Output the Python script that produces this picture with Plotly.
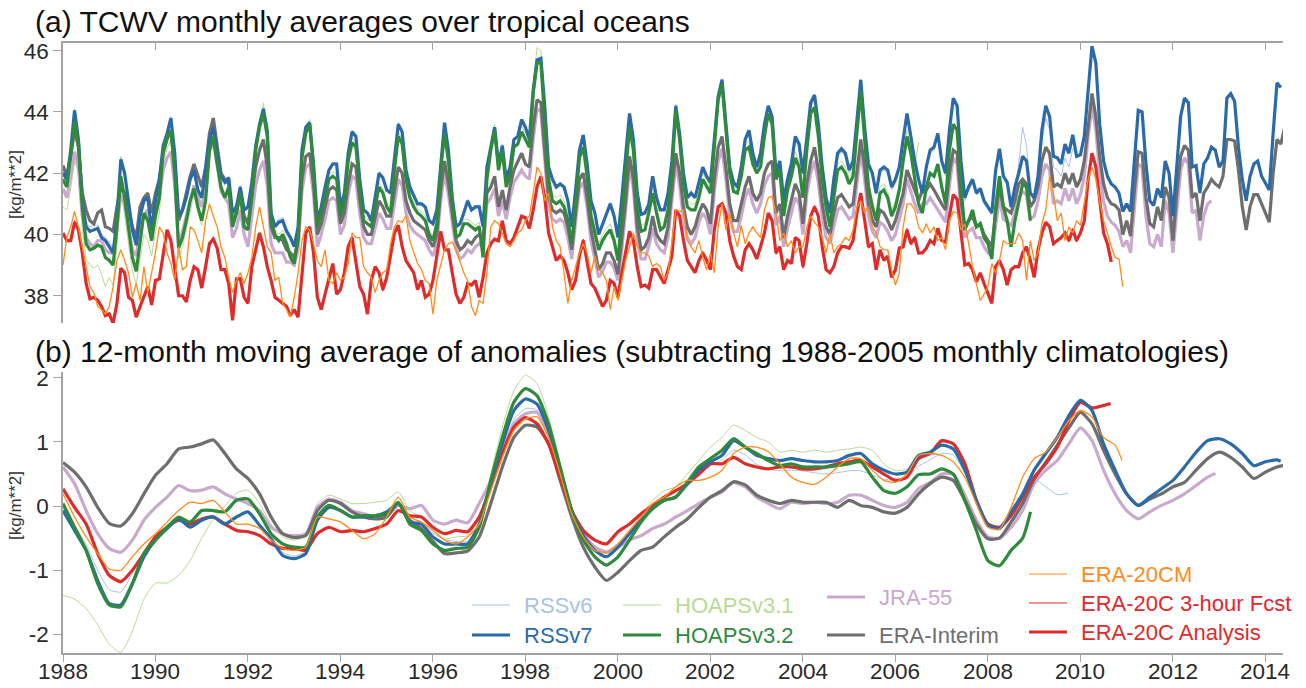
import plotly.graph_objects as go

# ---------------- panel (a): monthly TCWV over tropical oceans, from Jan 1988 ----------------
rssv6_a = [42.05, 41.85, 42.8, 44.1, 43.15, 41.2, 40.35, 40.25, 40.3, 40.3, 40.0, 39.9,
           39.75, 39.55, 40.6, 42.55, 42.05, 41.1, 40.25, 39.8, 40.7, 41.2, 41.3, 40.3,
           41.2, 41.85, 42.95, 43.35, 43.85, 42.7, 40.7, 40.9, 41.3, 41.85, 42.15, 41.5,
           41.25, 42.1, 43.15, 43.55, 42.7, 41.95, 41.75, 41.9, 40.8, 41.0, 41.6, 40.9,
           40.95, 41.75, 42.95, 43.65, 44.15, 43.45, 40.8, 40.35, 40.5, 40.55, 40.2, 40.0,
           39.7, 40.3, 42.8, 43.55, 43.7, 42.35, 40.5, 40.95, 41.6, 42.15, 42.35, 42.35,
           41.0, 41.4, 42.7, 43.4, 43.25, 41.85, 40.85, 40.75, 40.5, 41.25, 42.05, 41.9,
           41.5, 41.4, 42.45, 43.65, 43.4, 42.15, 41.6, 41.35, 41.05, 41.05, 40.95, 40.5,
           40.4, 40.85, 42.35, 43.65, 42.8, 41.25, 40.3, 40.4, 40.75, 41.15, 40.85, 40.95,
           40.95, 40.3, 42.2, 42.9, 43.5, 42.35, 42.9, 41.85, 42.25, 43.1, 43.2, 43.7,
           43.45, 43.05, 44.65, 45.6, 45.65, 44.15, 42.2, 41.85, 41.6, 41.7, 41.6, 41.15,
           40.3, 41.5, 42.75, 43.2, 42.3, 41.15, 40.75, 40.05, 40.4, 40.75, 41.05, 40.65,
           39.95, 41.2, 42.45, 43.85, 43.05, 41.35, 40.7, 40.75, 41.05, 41.9, 41.2, 40.85,
           40.85, 41.35, 42.35, 44.1, 43.25, 42.0, 41.2, 41.35, 41.2, 41.7, 42.1, 41.85,
           41.65, 43.0, 44.4, 44.95, 43.5, 42.15, 41.65, 41.5, 42.1, 43.0, 43.3, 42.6,
           42.1, 42.55, 43.5, 44.1, 43.75, 41.95, 42.3, 41.05, 41.75, 42.2, 43.1, 42.85,
           41.95, 43.0, 44.2, 44.45, 43.5, 42.1, 41.15, 40.65, 41.7, 42.55, 42.7, 42.55,
           42.0, 42.3, 43.5, 44.95, 43.4, 42.2, 41.9, 41.3, 42.0, 42.1, 42.0, 41.45,
           41.7, 42.1, 43.0, 43.85, 43.1, 42.3, 41.7, 41.3, 42.1, 42.65, 42.75, 43.2,
           42.3, 41.9, 43.3, 44.35, 44.1, 42.3, 41.1, 41.45, 41.7, 41.3, 41.4, 41.0,
           40.85, 40.65, 42.0, 42.7, 41.85, 41.6, 40.85, 41.6, 42.3, 43.5, 42.9, 41.4,
           41.0, 41.6, 43.0, 43.8, 43.4, 42.2, 42.1, 41.9, 42.5, 42.2, 42.8]

rssv7_a = [42.0, 41.8, 42.75, 44.05, 43.1, 41.1, 40.25, 40.1, 40.15, 40.2, 39.9, 39.8,
           39.6, 39.4, 40.5, 42.45, 42.0, 41.0, 40.15, 39.65, 40.6, 41.1, 41.2, 40.15,
           41.1, 41.8, 42.9, 43.3, 43.8, 42.65, 40.6, 40.8, 41.2, 41.8, 42.1, 41.45,
           41.2, 42.1, 43.1, 43.5, 42.65, 41.9, 41.7, 41.85, 40.7, 40.9, 41.55, 40.8,
           40.9, 41.7, 42.9, 43.6, 44.1, 43.4, 40.7, 40.25, 40.4, 40.45, 40.1, 39.9,
           39.6, 40.25, 42.75, 43.5, 43.65, 42.3, 40.45, 40.9, 41.55, 42.1, 42.3, 42.3,
           40.9, 41.35, 42.65, 43.35, 43.2, 41.8, 40.8, 40.7, 40.45, 41.2, 42.0, 41.85,
           41.45, 41.35, 42.4, 43.6, 43.35, 42.1, 41.55, 41.3, 41.0, 41.0, 40.9, 40.45,
           40.35, 40.8, 42.3, 43.65, 42.75, 41.2, 40.25, 40.35, 40.7, 41.1, 40.8, 40.9,
           40.9, 40.25, 42.2, 42.9, 43.5, 42.3, 42.9, 41.8, 42.2, 43.1, 43.2, 43.75,
           43.5, 43.1, 44.7, 45.7, 45.75, 44.2, 42.2, 41.8, 41.55, 41.65, 41.55, 41.1,
           40.25, 41.45, 42.75, 43.25, 42.3, 41.1, 40.7, 40.0, 40.35, 40.7, 41.0, 40.6,
           39.9, 41.2, 42.5, 43.95, 43.1, 41.35, 40.65, 40.7, 41.0, 41.9, 41.2, 40.8,
           40.8, 41.35, 42.4, 44.2, 43.3, 42.0, 41.2, 41.35, 41.2, 41.7, 42.2, 41.9,
           41.7, 43.1, 44.5, 45.05, 43.6, 42.2, 41.7, 41.55, 42.2, 43.1, 43.4, 42.65,
           42.2, 42.65, 43.6, 44.2, 43.85, 42.0, 42.4, 41.1, 41.8, 42.3, 43.2, 42.95,
           42.0, 43.1, 44.3, 44.55, 43.6, 42.2, 41.2, 40.7, 41.8, 42.65, 42.8, 42.65,
           42.1, 42.4, 43.6, 45.05, 43.5, 42.3, 42.0, 41.35, 42.1, 42.2, 42.1, 41.55,
           41.8, 42.2, 43.1, 43.95, 43.2, 42.4, 41.8, 41.35, 42.2, 42.75, 42.85, 43.3,
           42.4, 42.0, 43.4, 44.45, 44.2, 42.4, 41.2, 41.55, 41.8, 41.35, 41.5, 41.1,
           40.9, 40.7, 42.1, 42.8, 41.9, 41.7, 40.9, 41.55, 42.0, 42.55, 42.4, 41.35,
           41.2, 41.9, 43.4, 44.2, 43.85, 42.55, 42.5, 42.3, 42.95, 42.65, 43.25, 42.55,
           42.6, 43.2, 44.7, 46.15, 45.6, 43.6, 42.4, 41.9, 41.65, 41.55, 41.35, 40.75,
           41.0, 40.75, 42.4, 44.05, 44.0, 42.3, 41.1, 40.95, 41.5, 41.2, 42.4, 42.0,
           40.6, 42.2, 43.85, 44.45, 44.3, 42.2, 42.25, 41.35, 42.3, 42.5, 42.85, 42.75,
           42.2, 42.4, 44.45, 44.6, 44.35, 42.85, 41.8, 41.1, 41.9, 42.3, 42.4, 41.9,
           41.65, 41.45, 43.3, 44.95, 44.8]

hoaps31_a = [40.9, 40.8, 41.5, 42.4, 42.0, 40.2, 39.2, 39.0, 38.9, 39.0, 38.7, 38.3,
             38.6, 38.35, 39.6, 41.4, 40.6, 39.7, 38.8, 38.4, 39.2, 40.0, 39.8, 39.3,
             40.1, 40.7, 42.3, 42.8, 43.1, 41.6, 39.2, 39.6, 40.2, 40.8, 41.3, 40.7,
             40.3, 41.0, 42.7, 43.3, 42.4, 41.6, 41.3, 41.6, 40.3, 40.8, 41.4, 40.3,
             40.3, 41.35, 42.9, 43.65, 44.3, 43.3, 40.6, 40.15, 40.0, 40.15, 39.85, 39.45,
             39.25, 40.1, 42.65, 43.45, 43.75, 42.35, 40.4, 40.85, 41.35, 41.95, 42.05, 41.95,
             40.75, 41.25, 42.55, 43.15, 43.0, 41.7, 40.6, 40.5, 40.4, 41.05, 41.7, 41.5,
             41.05, 40.85, 42.25, 43.35, 43.1, 41.95, 41.35, 41.05, 40.85, 40.75, 40.6, 40.15,
             39.95, 40.5, 42.25, 43.45, 42.55, 41.25, 40.05, 40.15, 40.5, 40.5, 40.4, 40.3,
             40.4, 39.45, 42.0, 42.95, 43.6, 42.3, 42.95, 41.75, 42.1, 43.05, 43.15, 43.55,
             43.3, 43.05, 44.85, 46.1, 46.0, 44.1, 42.0, 41.3, 41.2, 41.3, 41.1, 40.65,
             39.9, 41.2, 42.7, 43.05, 42.1, 40.8, 40.2, 39.7, 40.0, 40.2, 40.35, 40.0,
             39.35, 40.8, 42.4, 43.7, 42.95, 41.0, 40.3, 40.35, 40.9, 41.55, 40.9, 40.35,
             40.45, 41.0, 42.2, 44.25, 43.3, 41.85, 41.1, 41.0, 41.0, 41.4, 42.0, 41.75,
             41.55, 43.05, 44.6, 45.1, 43.6, 42.2, 41.6, 41.55, 42.1, 42.95, 43.05, 42.5,
             42.2, 42.4, 43.4, 44.15, 43.8, 42.0, 42.3, 40.8, 41.65, 42.1, 42.7, 42.4,
             41.4, 42.95, 44.15, 44.35, 43.4, 42.0, 41.1, 40.45, 41.4, 42.3, 42.4, 42.2,
             41.85, 42.1, 43.5, 44.9, 43.3, 41.75, 41.1, 40.65, 41.55, 41.65, 41.4, 40.8,
             41.1, 41.65, 42.6, 43.4, 42.85, 42.2, 43.0]

hoaps32_a = [41.8, 41.55, 42.6, 43.7, 43.0, 40.9, 39.7, 39.5, 39.55, 39.65, 39.6, 39.25,
             39.15, 39.0, 40.25, 41.9, 41.2, 40.25, 39.25, 38.8, 39.8, 40.7, 40.45, 39.8,
             40.6, 41.2, 42.75, 43.2, 43.4, 42.0, 39.55, 39.9, 40.45, 41.1, 41.5, 40.9,
             40.45, 41.1, 42.75, 43.2, 42.3, 41.55, 41.2, 41.55, 40.25, 40.7, 41.35, 40.25,
             40.15, 41.2, 42.75, 43.5, 43.95, 43.2, 40.45, 40.0, 39.8, 40.0, 39.7, 39.25,
             39.05, 39.9, 42.5, 43.3, 43.6, 42.2, 40.25, 40.7, 41.2, 41.8, 41.9, 41.8,
             40.6, 41.1, 42.4, 43.0, 42.85, 41.55, 40.45, 40.35, 40.25, 40.9, 41.55, 41.35,
             40.9, 40.7, 42.1, 43.2, 42.95, 41.8, 41.2, 40.9, 40.7, 40.6, 40.45, 40.0,
             39.8, 40.35, 42.1, 43.3, 42.4, 41.1, 39.9, 40.0, 40.35, 40.35, 40.25, 40.15,
             40.25, 39.25, 41.8, 42.75, 43.4, 42.1, 42.75, 41.55, 41.9, 42.85, 42.95, 43.35,
             43.1, 42.85, 44.6, 45.6, 45.6, 43.85, 41.8, 41.1, 41.0, 41.1, 40.9, 40.45,
             39.7, 41.0, 42.5, 42.85, 41.9, 40.6, 40.0, 39.5, 39.8, 40.0, 40.15, 39.8,
             39.15, 40.6, 42.2, 43.5, 42.75, 40.8, 40.1, 40.15, 40.7, 41.35, 40.7, 40.15,
             40.25, 40.8, 42.0, 44.05, 43.1, 41.65, 40.9, 40.8, 40.8, 41.2, 41.8, 41.55,
             41.35, 42.85, 44.4, 44.9, 43.4, 42.0, 41.4, 41.35, 41.9, 42.75, 42.85, 42.3,
             42.0, 42.2, 43.2, 43.95, 43.6, 41.8, 42.1, 40.6, 41.45, 41.9, 42.5, 42.2,
             41.2, 42.75, 43.95, 44.15, 43.2, 41.8, 40.9, 40.25, 41.2, 42.1, 42.2, 42.0,
             41.65, 41.9, 43.3, 44.7, 43.1, 41.55, 40.9, 40.45, 41.35, 41.45, 41.2, 40.6,
             40.9, 41.45, 42.4, 43.2, 42.65, 41.8, 41.0, 40.7, 41.55, 42.0, 41.9, 42.3,
             41.55, 41.0, 42.75, 43.6, 43.4, 41.55, 40.15, 40.45, 40.8, 40.25, 40.35, 39.9,
             39.7, 39.2, 40.9, 41.9, 40.9, 40.45, 39.6, 40.45, 41.1, 41.65, 41.55, 40.45]

jra55_a = [41.5, 41.2, 41.9, 42.7, 42.2, 40.6, 39.9, 39.7, 39.6, 39.8, 39.8, 39.5,
           39.4, 39.4, 40.2, 41.3, 41.0, 40.2, 39.5, 39.3, 40.2, 40.6, 40.8, 40.1,
           40.7, 41.2, 42.1, 42.5, 42.7, 41.6, 39.6, 40.1, 40.7, 41.2, 41.6, 41.2,
           40.9, 41.6, 42.7, 43.0, 42.3, 41.4, 41.2, 41.0, 39.9, 40.2, 40.8, 40.0,
           39.6, 40.6, 41.6, 42.1, 42.4, 41.6, 39.7, 39.4, 39.4, 39.4, 39.1, 39.1,
           39.0, 39.5, 41.4, 42.2, 42.3, 41.3, 39.6, 40.0, 40.5, 41.1, 41.2, 41.1,
           40.0, 40.3, 41.3, 41.9, 41.8, 40.7, 39.9, 39.7, 39.7, 40.2, 40.7, 40.5,
           40.2, 40.2, 41.0, 41.8, 41.6, 40.7, 40.3, 40.1, 40.0, 39.9, 39.8, 39.5,
           39.3, 39.7, 41.1, 42.0, 41.3, 40.4, 39.5, 39.2, 39.3, 39.5, 39.4, 39.6,
           39.7, 39.6, 41.0, 41.2, 41.5, 40.6, 41.1, 40.5, 41.2, 41.7, 41.9, 42.1,
           41.9, 41.8, 43.1, 44.1, 44.0, 42.5, 40.9, 40.5, 40.4, 40.5, 40.4, 39.9,
           39.2, 40.4, 41.5, 41.7, 40.9, 39.8, 39.2, 38.6, 38.8, 39.1, 39.1, 38.9,
           38.5, 39.5, 40.8, 42.2, 41.5, 39.9, 39.2, 39.2, 39.6, 40.2, 39.7, 39.5,
           39.4, 39.9, 41.1, 42.3, 41.6, 40.5, 39.9, 39.7, 39.9, 40.4, 40.7, 40.5,
           40.0, 41.4, 42.4, 42.8, 41.8, 40.6, 40.1, 40.1, 40.6, 41.2, 41.5, 41.0,
           40.7, 41.0, 41.6, 41.9, 42.0, 40.3, 40.6, 39.6, 40.2, 40.7, 41.2, 41.0,
           40.0, 41.3, 42.0, 42.4, 41.7, 40.6, 39.9, 39.7, 40.3, 40.8, 40.9, 40.7,
           40.5, 40.6, 41.6, 42.7, 41.8, 40.6, 40.1, 39.9, 40.4, 40.3, 40.1, 39.8,
           40.0, 40.5, 41.0, 41.8, 41.4, 41.0, 40.7, 41.0, 41.0, 41.2, 41.0, 40.8,
           40.6, 40.4, 41.6, 42.5, 42.3, 40.8, 39.9, 40.1, 40.2, 39.9, 39.9, 39.6,
           39.4, 39.3, 40.3, 41.2, 40.5, 40.4, 40.3, 40.7, 41.2, 41.4, 41.3, 40.5,
           40.6, 41.1, 41.9, 42.3, 42.1, 41.0, 41.1, 41.0, 41.5, 41.1, 41.5, 41.0,
           41.3, 41.9, 43.2, 44.2, 43.4, 42.0, 41.1, 40.6, 40.4, 40.3, 40.1, 39.6,
           39.8, 39.4, 41.0, 42.3, 42.2, 40.6, 39.7, 39.6, 40.0, 39.6, 41.1, 40.7,
           39.4, 40.9, 42.1, 42.5, 42.3, 40.7, 40.8, 39.8, 40.6, 41.0, 41.1]

era_interim_a = [42.25, 41.9, 42.55, 43.4, 42.85, 41.35, 40.8, 40.45, 40.35, 40.7, 40.8, 40.25,
                 40.2, 40.1, 40.9, 41.55, 41.35, 40.8, 40.25, 39.9, 40.9, 41.2, 41.35, 40.7,
                 41.35, 41.8, 42.65, 43.1, 43.4, 42.2, 40.45, 40.8, 41.35, 41.9, 42.3, 41.9,
                 41.55, 42.2, 43.3, 43.8, 42.85, 42.0, 41.8, 41.65, 40.45, 40.7, 41.45, 40.6,
                 40.35, 41.2, 42.2, 42.75, 43.1, 42.2, 40.25, 39.9, 39.9, 39.8, 39.5, 39.4,
                 39.25, 39.8, 41.8, 42.55, 42.65, 41.65, 40.0, 40.35, 40.9, 41.45, 41.55, 41.45,
                 40.35, 40.7, 41.65, 42.3, 42.2, 41.1, 40.25, 40.0, 40.0, 40.6, 41.1, 40.9,
                 40.6, 40.6, 41.35, 42.2, 42.0, 41.1, 40.7, 40.45, 40.35, 40.25, 40.15, 39.8,
                 39.6, 40.0, 41.45, 42.4, 41.65, 40.7, 39.8, 39.5, 39.6, 39.8, 39.7, 39.9,
                 40.0, 39.9, 41.35, 41.55, 41.9, 40.9, 41.45, 40.8, 41.55, 42.1, 42.4, 42.65,
                 42.3, 42.2, 43.5, 44.4, 44.3, 42.85, 41.2, 40.8, 40.7, 40.8, 40.7, 40.25,
                 39.5, 40.7, 41.8, 42.0, 41.2, 40.15, 39.5, 38.85, 39.05, 39.4, 39.4, 39.15,
                 38.7, 39.8, 41.1, 42.55, 41.8, 40.25, 39.5, 39.6, 39.9, 40.6, 40.0, 39.8,
                 39.7, 40.25, 41.45, 42.65, 42.0, 40.9, 40.25, 40.0, 40.25, 40.7, 41.0, 40.8,
                 40.35, 41.8, 42.85, 43.2, 42.2, 41.0, 40.45, 40.45, 41.0, 41.55, 41.9, 41.35,
                 41.1, 41.35, 42.0, 42.3, 42.4, 40.7, 41.0, 39.9, 40.6, 41.1, 41.65, 41.35,
                 40.35, 41.65, 42.4, 42.85, 42.1, 41.0, 40.25, 40.0, 40.7, 41.2, 41.3, 41.1,
                 40.9, 41.0, 42.0, 43.1, 42.2, 41.0, 40.45, 40.25, 40.8, 40.7, 40.45, 40.15,
                 40.45, 40.9, 41.35, 42.1, 41.8, 41.45, 41.1, 41.45, 41.45, 41.65, 41.45, 41.2,
                 41.0, 40.8, 42.0, 42.75, 42.65, 41.1, 40.25, 40.45, 40.6, 40.25, 40.35, 40.0,
                 39.8, 39.6, 40.7, 41.55, 40.9, 40.8, 40.7, 41.1, 41.65, 41.8, 41.65, 40.9,
                 41.1, 41.55, 42.4, 42.85, 42.65, 41.55, 41.65, 41.55, 42.0, 41.65, 42.0, 41.55,
                 41.8, 42.4, 43.6, 44.6, 43.85, 42.55, 41.65, 41.2, 41.0, 40.95, 40.8, 40.0,
                 40.45, 39.95, 41.45, 42.7, 42.65, 41.2, 40.35, 40.25, 40.9, 40.45, 41.55, 41.2,
                 39.8, 41.35, 42.55, 42.9, 42.75, 41.2, 41.35, 40.45, 41.35, 41.55, 41.8, 41.65,
                 41.55, 41.9, 43.1, 43.1, 43.05, 42.1, 40.9, 40.15, 40.9, 41.3, 41.3, 41.0,
                 40.7, 40.4, 42.0, 43.1, 42.95, 43.5]

era20cm_a = [39.0, 39.9, 40.25, 40.75, 40.25, 39.6, 38.85, 38.3, 38.1, 37.65, 37.55, 37.4,
             37.65, 38.3, 39.15, 39.5, 39.15, 38.75, 37.95, 38.4, 37.85, 38.95, 38.1, 38.75,
             39.4, 40.25, 40.05, 39.4, 39.05, 38.5, 39.6, 38.85, 38.95, 40.25, 40.15, 39.8,
             39.4, 40.45, 41.0, 40.6, 40.25, 39.6, 39.25, 38.6, 38.1, 38.5, 38.75, 38.4,
             38.75, 39.25, 40.25, 40.9, 40.25, 39.6, 39.4, 38.5, 38.6, 37.75, 37.55, 37.3,
             37.95, 38.75, 39.8, 40.25, 40.15, 39.7, 39.15, 38.95, 39.5, 38.5, 38.4, 38.75,
             38.5, 38.6, 39.05, 40.05, 39.9, 39.9, 38.95, 38.75, 38.6, 38.1, 38.5, 38.75,
             38.85, 39.7, 40.25, 40.45, 40.4, 40.6, 39.8, 39.4, 39.05, 38.85, 38.5, 38.4,
             37.4, 38.5, 39.05, 39.5, 39.7, 39.75, 39.5, 39.15, 38.75, 38.5, 37.65, 37.35,
             37.85, 37.75, 38.75, 40.25, 40.45, 40.35, 40.05, 39.7, 39.6, 39.8, 40.05, 40.15,
             40.45, 40.6, 41.35, 42.2, 42.0, 41.1, 41.35, 40.25, 39.8, 39.6, 38.75, 37.75,
             38.5, 38.95, 39.4, 39.7, 39.4, 38.75, 39.3, 38.85, 38.75, 38.5, 37.55, 38.3,
             37.85, 38.5, 39.15, 39.6, 40.05, 39.6, 39.4, 39.4, 39.3, 38.95, 39.05, 38.95,
             38.5, 38.75, 39.8, 40.8, 40.75, 40.8, 39.8, 39.6, 39.4, 39.8, 39.25, 38.85,
             39.4, 38.75, 40.25, 41.0, 40.15, 40.7, 40.05, 39.6, 40.3, 39.7, 40.05, 40.25,
             40.05, 39.9, 40.8, 41.2, 41.25, 40.7, 39.8, 40.05, 39.6, 39.8, 39.4, 39.6,
             39.6, 40.25, 40.6, 40.4, 40.25, 39.9, 39.4, 40.05, 39.4, 39.6, 39.7, 39.9,
             39.8, 40.15, 40.9, 41.1, 40.7, 40.9, 40.25, 40.05, 39.6, 39.5, 39.5, 38.85,
             38.35, 38.75, 40.25, 41.0, 41.0, 40.8, 40.25, 40.05, 40.35, 40.05, 40.25, 39.8,
             39.9, 39.5, 40.45, 40.75, 40.7, 40.15, 40.35, 39.7, 38.95, 38.4, 37.85, 38.05,
             38.3, 39.05, 38.75, 39.15, 39.8, 39.7, 39.7, 39.7, 40.05, 39.8, 38.5, 39.8,
             39.15, 39.4, 40.35, 40.8, 41.9, 41.35, 40.45, 40.7, 39.8, 40.25, 40.05, 40.45,
             40.3, 41.0, 41.8, 42.2, 41.8, 41.1, 40.45, 40.05, 39.6, 39.25, 39.2, 38.3]

era20c_fcst_a = [40.0, 39.75, 39.85, 40.45, 40.1, 39.35, 38.45, 37.95, 37.9, 37.9, 37.7, 37.4,
                 37.45, 37.15, 37.8, 38.85, 38.7, 38.0, 37.8, 37.35, 37.7, 37.9, 38.25, 37.75,
                 38.45, 38.6, 39.35, 40.1, 39.85, 38.9, 38.05, 37.95, 37.85, 38.45, 38.9, 38.8,
                 38.3, 38.9, 39.65, 39.9, 39.5, 38.9, 38.8, 38.45, 37.3, 38.5, 38.6, 38.0,
                 37.8, 38.9, 39.55, 40.0, 39.65, 38.9, 38.55, 37.9, 37.9, 37.7, 37.7, 37.4,
                 37.5, 37.35, 38.7, 40.0, 40.2, 39.45, 37.9, 37.6, 38.0, 38.65, 39.0, 38.1,
                 38.15, 38.8, 39.55, 39.95, 39.0, 38.35, 38.0, 37.45, 38.45, 38.9, 38.8, 38.15,
                 38.65, 39.35, 40.0, 40.25, 39.65, 39.1, 38.9, 38.8, 38.25, 38.45, 38.0, 38.1,
                 38.45, 39.25, 40.05, 39.55, 39.45, 38.8, 38.1, 37.8, 37.9, 38.35, 38.4, 38.45,
                 38.0, 38.55, 39.35, 39.75, 39.8, 39.75, 40.4, 39.85, 39.65, 39.95, 40.2, 40.55,
                 40.5, 40.25, 40.75, 41.5, 41.85, 41.25, 40.1, 39.55, 39.2, 39.25, 39.1, 38.8,
                 38.25, 38.45, 39.25, 39.85, 39.2, 38.45, 38.2, 38.0, 37.7, 37.8, 38.45, 38.45,
                 38.0, 38.7, 39.45, 40.05, 39.75, 39.0, 38.35, 38.3, 38.3, 38.8, 38.9, 38.55,
                 38.45, 38.8, 39.35, 40.75, 40.55, 39.85, 39.1, 39.0, 38.8, 39.1, 39.45, 39.1,
                 38.9, 40.1, 40.85, 41.05, 40.65, 39.85, 39.25, 39.0, 38.9, 39.45, 39.75, 39.45,
                 39.25, 39.55, 40.1, 40.65, 40.5, 39.35, 39.55, 38.9, 39.1, 39.1, 39.85, 39.85,
                 38.9, 39.75, 40.55, 40.95, 40.55, 39.65, 38.9, 38.7, 39.0, 39.35, 39.65, 39.55,
                 39.6, 39.75, 40.75, 41.3, 40.5, 39.55, 39.75, 38.9, 39.45, 39.2, 39.25, 38.65,
                 38.8, 39.6, 39.55, 40.2, 39.65, 39.95, 39.35, 39.45, 39.5, 39.85, 39.65, 40.15,
                 39.85, 39.7, 40.65, 41.25, 41.2, 40.0, 39.05, 39.0, 38.9, 38.5, 38.7, 38.45,
                 38.0, 37.8, 38.9, 39.2, 38.8, 38.4, 38.8, 39.0, 38.9, 39.45, 39.55, 39.2,
                 38.65, 39.45, 40.1, 40.35, 40.3, 39.65, 39.85, 39.85, 40.1, 39.75, 40.2, 39.75,
                 40.1, 40.4, 41.75, 42.6, 42.25, 41.05, 40.1, 39.65, 39.15]

era20c_an_a = [40.05, 39.8, 39.8, 40.4, 40.15, 39.4, 38.4, 37.9, 37.95, 37.85, 37.65, 37.35,
               37.4, 37.1, 37.75, 38.9, 38.75, 37.95, 37.85, 37.3, 37.65, 37.95, 38.3, 37.7,
               38.5, 38.55, 39.4, 40.15, 39.8, 38.95, 38.0, 38.0, 37.8, 38.5, 38.95, 38.85,
               38.25, 38.95, 39.7, 39.85, 39.55, 38.85, 38.85, 38.4, 37.2, 38.55, 38.55, 37.95,
               37.75, 38.95, 39.5, 40.05, 39.6, 38.95, 38.5, 37.95, 37.85, 37.75, 37.65, 37.35,
               37.55, 37.3, 38.75, 40.05, 40.25, 39.4, 37.95, 37.55, 38.05, 38.6, 39.05, 38.05,
               38.2, 38.75, 39.6, 39.9, 39.05, 38.3, 38.05, 37.4, 38.5, 38.95, 38.75, 38.2,
               38.6, 39.4, 40.05, 40.3, 39.6, 39.15, 38.95, 38.75, 38.2, 38.5, 37.95, 38.05,
               38.5, 39.3, 40.1, 39.5, 39.5, 38.75, 38.05, 37.75, 37.95, 38.4, 38.35, 38.5,
               37.95, 38.6, 39.4, 39.7, 39.85, 39.8, 40.45, 39.8, 39.7, 39.9, 40.25, 40.6,
               40.55, 40.2, 40.8, 41.55, 41.9, 41.2, 40.05, 39.6, 39.15, 39.3, 39.15, 38.75,
               38.2, 38.5, 39.3, 39.8, 39.15, 38.4, 38.25, 37.95, 37.65, 37.85, 38.5, 38.4,
               37.95, 38.75, 39.4, 40.1, 39.8, 38.95, 38.3, 38.35, 38.25, 38.85, 38.85, 38.6,
               38.4, 38.85, 39.3, 40.8, 40.6, 39.8, 39.15, 38.95, 38.75, 39.15, 39.4, 39.15,
               38.85, 40.15, 40.9, 41.0, 40.7, 39.8, 39.3, 38.95, 38.85, 39.5, 39.7, 39.5,
               39.2, 39.6, 40.05, 40.7, 40.45, 39.4, 39.6, 38.85, 39.15, 39.05, 39.9, 39.8,
               38.95, 39.7, 40.6, 40.9, 40.6, 39.6, 38.85, 38.75, 38.95, 39.4, 39.6, 39.6,
               39.55, 39.8, 40.7, 41.35, 40.45, 39.6, 39.7, 38.85, 39.5, 39.15, 39.3, 38.6,
               38.85, 39.55, 39.6, 40.15, 39.7, 39.9, 39.4, 39.4, 39.55, 39.8, 39.7, 40.2,
               39.8, 39.75, 40.6, 41.3, 41.15, 40.05, 39.0, 39.05, 38.85, 38.45, 38.75, 38.4,
               38.05, 37.75, 38.95, 39.15, 38.85, 38.35, 38.85, 38.95, 38.95, 39.4, 39.6, 39.15,
               38.6, 39.5, 40.05, 40.4, 40.25, 39.7, 39.8, 39.9, 40.05, 39.8, 40.15, 39.8,
               40.05, 40.45, 41.8, 42.65, 42.2, 41.1, 40.05, 39.7, 39.1]

# ---------------- panel (b): 12-month moving average of anomalies, quarterly from 1988.0 ----------------
rssv6_b = [-0.02, -0.3, -0.6, -1.0, -1.3, -1.34, -1.05, -0.7, -0.5, -0.33, -0.2, -0.3,
           -0.2, -0.15, -0.25, -0.15, -0.1, -0.28, -0.48, -0.72, -0.78, -0.7, -0.2, -0.03,
           -0.05, -0.15, -0.15, -0.15, -0.08, 0.04, -0.22, -0.25, -0.42, -0.52, -0.55, -0.55,
           -0.25, 0.3, 0.85, 1.35, 1.52, 1.5, 1.1, 0.55, -0.05, -0.42, -0.62, -0.7,
           -0.58, -0.4, -0.2, -0.05, 0.07, 0.12, 0.3, 0.5, 0.62, 0.72, 0.87, 0.8,
           0.65, 0.58, 0.55, 0.56, 0.55, 0.52, 0.5, 0.52, 0.55, 0.55, 0.48, 0.42,
           0.4, 0.45, 0.62, 0.72, 0.82, 0.8, 0.52, 0.1, -0.28, -0.33, -0.1, 0.15,
           0.42, 0.3, 0.18, 0.2]
rssv7_b = [-0.07, -0.38, -0.69, -1.16, -1.52, -1.54, -1.21, -0.79, -0.53, -0.35, -0.2, -0.33,
           -0.22, -0.17, -0.28, -0.17, -0.09, -0.3, -0.51, -0.77, -0.82, -0.74, -0.22, -0.02,
           -0.07, -0.17, -0.17, -0.15, -0.09, 0.04, -0.25, -0.28, -0.48, -0.59, -0.59, -0.59,
           -0.28, 0.35, 0.97, 1.49, 1.67, 1.59, 1.18, 0.56, -0.07, -0.46, -0.69, -0.79,
           -0.64, -0.43, -0.22, -0.04, 0.09, 0.14, 0.35, 0.56, 0.69, 0.79, 1.02, 0.92,
           0.79, 0.74, 0.71, 0.74, 0.71, 0.69, 0.69, 0.71, 0.79, 0.82, 0.66, 0.56,
           0.5, 0.53, 0.79, 0.84, 0.95, 0.89, 0.56, 0.09, -0.3, -0.35, -0.09, 0.19,
           0.56, 0.82, 1.07, 1.41, 1.65, 1.49, 0.97, 0.56, 0.19, 0.01, 0.14, 0.27,
           0.4, 0.61, 0.84, 1.02, 1.05, 0.97, 0.82, 0.63, 0.69, 0.72, 0.7]
hoaps31_b = [-1.39, -1.45, -1.6, -1.85, -2.15, -2.28, -1.95, -1.45, -1.2, -1.2, -1.08, -0.85,
             -0.5, -0.2, 0.0, 0.2, 0.25, 0.04, -0.28, -0.48, -0.53, -0.46, 0.04, 0.17,
             0.11, 0.04, 0.04, 0.06, 0.09, 0.22, -0.07, -0.17, -0.38, -0.51, -0.48, -0.46,
             -0.17, 0.5, 1.23, 1.8, 2.04, 1.91, 1.39, 0.66, -0.02, -0.43, -0.66, -0.74,
             -0.59, -0.38, -0.15, 0.09, 0.24, 0.3, 0.5, 0.71, 0.92, 1.07, 1.26, 1.18,
             1.07, 1.0, 0.84, 0.87, 0.84, 0.87, 0.84, 0.87, 0.89, 0.92, 0.87, 0.66,
             0.55, 0.6]
hoaps32_b = [0.04, -0.33, -0.69, -1.21, -1.54, -1.57, -1.21, -0.74, -0.53, -0.33, -0.17, -0.25,
             -0.07, -0.07, -0.09, 0.09, 0.11, -0.12, -0.43, -0.59, -0.64, -0.64, -0.17, 0.01,
             -0.07, -0.17, -0.15, -0.15, -0.12, 0.06, -0.28, -0.38, -0.59, -0.69, -0.66, -0.64,
             -0.33, 0.4, 1.07, 1.62, 1.83, 1.72, 1.28, 0.61, -0.07, -0.53, -0.79, -0.92,
             -0.79, -0.53, -0.25, -0.04, 0.09, 0.14, 0.37, 0.61, 0.74, 0.87, 1.05, 0.92,
             0.82, 0.71, 0.63, 0.66, 0.61, 0.61, 0.61, 0.63, 0.66, 0.69, 0.45, 0.24,
             0.2, 0.3, 0.49, 0.5, 0.58, 0.5, 0.09, -0.38, -0.85, -0.93, -0.69, -0.5,
             -0.09]
jra55_b = [0.61, 0.35, -0.07, -0.43, -0.66, -0.72, -0.53, -0.22, -0.02, 0.14, 0.32, 0.24,
           0.25, 0.3, 0.19, 0.11, 0.04, -0.07, -0.33, -0.43, -0.46, -0.43, -0.02, 0.11,
           0.06, -0.07, -0.12, -0.17, -0.15, 0.01, -0.04, 0.01, -0.22, -0.28, -0.22, -0.26,
           0.04, 0.4, 0.87, 1.28, 1.44, 1.46, 1.13, 0.5, -0.07, -0.43, -0.64, -0.72,
           -0.64, -0.53, -0.46, -0.35, -0.28, -0.17, -0.07, 0.04, 0.14, 0.22, 0.37, 0.3,
           0.14, 0.04, -0.04, 0.06, 0.04, 0.06, 0.04, 0.06, 0.17, 0.17, 0.09, 0.01,
           -0.02, 0.06, 0.27, 0.37, 0.5, 0.5, 0.17, -0.22, -0.48, -0.5, -0.33, -0.07,
           0.35, 0.56, 0.71, 0.97, 1.22, 1.02, 0.56, 0.19, -0.07, -0.2, -0.09, 0.01,
           0.09, 0.19, 0.32, 0.45, 0.51]
era_interim_b = [0.68, 0.53, 0.3, -0.02, -0.27, -0.31, -0.12, 0.19, 0.48, 0.66, 0.89, 0.92,
                 0.97, 1.03, 0.82, 0.58, 0.43, 0.19, -0.17, -0.43, -0.49, -0.46, -0.07, 0.09,
                 0.04, -0.09, -0.17, -0.2, -0.17, 0.04, -0.22, -0.35, -0.55, -0.74, -0.73, -0.7,
                 -0.48, 0.04, 0.61, 1.07, 1.26, 1.23, 0.97, 0.4, -0.17, -0.64, -0.95, -1.16,
                 -1.03, -0.85, -0.69, -0.64, -0.48, -0.33, -0.2, -0.02, 0.14, 0.24, 0.38, 0.33,
                 0.17, 0.09, 0.04, 0.09, 0.06, 0.06, 0.06, -0.02, 0.09, 0.01, -0.02, -0.09,
                 -0.11, -0.02, 0.19, 0.35, 0.45, 0.4, 0.09, -0.28, -0.51, -0.5, -0.25, 0.04,
                 0.42, 0.68, 0.95, 1.22, 1.46, 1.28, 0.87, 0.5, 0.19, 0.01, 0.11, 0.19,
                 0.3, 0.37, 0.56, 0.74, 0.84, 0.76, 0.61, 0.43, 0.53, 0.61, 0.63]
era20cm_b = [0.19, -0.17, -0.48, -0.74, -0.98, -1.0, -0.79, -0.59, -0.43, -0.25, -0.07, 0.06,
             0.04, 0.09, -0.09, -0.28, -0.28, -0.35, -0.53, -0.66, -0.69, -0.64, -0.17, -0.2,
             -0.25, -0.38, -0.51, -0.43, -0.17, 0.14, -0.17, -0.25, -0.38, -0.53, -0.59, -0.48,
             -0.28, 0.24, 0.76, 1.18, 1.36, 1.39, 1.07, 0.5, -0.12, -0.48, -0.69, -0.72,
             -0.59, -0.38, -0.17, 0.04, 0.14, 0.3, 0.4, 0.4, 0.45, 0.56, 0.82, 0.92,
             0.92, 0.85, 0.66, 0.45, 0.37, 0.34, 0.45, 0.61, 0.74, 0.74, 0.56, 0.4,
             0.37, 0.5, 0.79, 0.82, 0.79, 0.69, 0.45, 0.04, -0.33, -0.36, -0.02, 0.45,
             0.74, 0.84, 1.07, 1.33, 1.49, 1.39, 1.07, 0.95, 0.71]
era20c_fcst_b = [0.25, -0.03, -0.3, -0.73, -1.06, -1.16, -0.99, -0.73, -0.48, -0.33, -0.23, -0.28,
                 -0.21, -0.18, -0.29, -0.37, -0.4, -0.46, -0.58, -0.65, -0.66, -0.68, -0.44, -0.34,
                 -0.4, -0.38, -0.4, -0.35, -0.28, -0.08, -0.15, -0.18, -0.33, -0.42, -0.38, -0.4,
                 -0.17, 0.3, 0.81, 1.22, 1.37, 1.28, 0.97, 0.45, -0.07, -0.37, -0.52, -0.58,
                 -0.4, -0.28, -0.12, 0.02, 0.14, 0.24, 0.36, 0.5, 0.65, 0.66, 0.75, 0.66,
                 0.6, 0.58, 0.6, 0.6, 0.58, 0.58, 0.6, 0.65, 0.68, 0.7, 0.6, 0.5,
                 0.41, 0.45, 0.73, 0.82, 1.0, 0.96, 0.66, 0.1, -0.27, -0.32, -0.15, 0.14,
                 0.45, 0.66, 0.92, 1.32, 1.6, 1.52, 1.56, 1.59]
era20c_an_b = [0.27, -0.02, -0.28, -0.74, -1.08, -1.18, -1.0, -0.74, -0.48, -0.33, -0.22, -0.28,
               -0.2, -0.17, -0.28, -0.38, -0.4, -0.46, -0.59, -0.66, -0.66, -0.69, -0.43, -0.33,
               -0.4, -0.38, -0.4, -0.35, -0.28, -0.07, -0.15, -0.17, -0.33, -0.43, -0.38, -0.4,
               -0.17, 0.3, 0.82, 1.23, 1.38, 1.28, 0.97, 0.45, -0.07, -0.38, -0.53, -0.59,
               -0.4, -0.28, -0.12, 0.01, 0.14, 0.24, 0.35, 0.5, 0.66, 0.66, 0.76, 0.66,
               0.61, 0.58, 0.61, 0.61, 0.58, 0.58, 0.61, 0.66, 0.69, 0.71, 0.61, 0.5,
               0.4, 0.45, 0.74, 0.82, 1.02, 0.97, 0.66, 0.09, -0.28, -0.33, -0.15, 0.14,
               0.45, 0.66, 0.92, 1.33, 1.62, 1.53, 1.57, 1.6]

# last plotted date (decimal year) of each panel-(b) series
b_end = {"RSSv6": 2009.73, "RSSv7": 2014.33, "HOAPSv3.1": 2006.4, "HOAPSv3.2": 2008.92,
         "JRA-55": 2012.92, "ERA-Interim": 2014.38, "ERA-20CM": 2010.9,
         "ERA-20C 3-hour Fcst": 2010.65, "ERA-20C Analysis": 2010.65}

x_ticks = list(range(1988, 2015, 2))
ya_ticks = [38, 40, 42, 44, 46]
yb_ticks = [-2, -1, 0, 1, 2]
yb_ticklabels = ["-2", "-1", "0", "1", "2"]

# ---------------- styling ----------------
series = [
    # name, panel a, panel b, colour, width
    ("RSSv6", rssv6_a, rssv6_b, "#a9c3e3", 1.0),
    ("HOAPSv3.1", hoaps31_a, hoaps31_b, "#b9da93", 1.0),
    ("JRA-55", jra55_a, jra55_b, "#c9a9cd", 3.2),
    ("ERA-Interim", era_interim_a, era_interim_b, "#6e6e6e", 3.2),
    ("ERA-20C 3-hour Fcst", era20c_fcst_a, era20c_fcst_b, "#e3262b", 1.0),
    ("ERA-20C Analysis", era20c_an_a, era20c_an_b, "#de2b2b", 3.2),
    ("RSSv7", rssv7_a, rssv7_b, "#2b6aa9", 3.2),
    ("HOAPSv3.2", hoaps32_a, hoaps32_b, "#2f8a3d", 3.2),
    ("ERA-20CM", era20cm_a, era20cm_b, "#ff8c1a", 1.3),
]

FONT = "Liberation Sans, Arial, Helvetica, sans-serif"
W, H = 1306, 688
ML, MR, MT, MB = 63, 23, 43, 35
PW, PH = W - ML - MR, H - MT - MB


def fx(px):
    return (px - ML) / PW


def fy(py):
    return (H - MB - py) / PH


fig = go.Figure()
for name, va, vb, col, wd in series:
    xa = [1988 + i / 12 for i in range(len(va))]
    fig.add_trace(go.Scatter(x=xa, y=va, mode="lines", name=name, showlegend=False,
                             line=dict(color=col, width=wd), xaxis="x", yaxis="y"))
    xb = [1988 + 0.25 * i for i in range(len(vb) - 1)] + [b_end[name]]
    fig.add_trace(go.Scatter(x=xb, y=vb, mode="lines", name=name, showlegend=False,
                             line=dict(color=col, width=wd, shape="spline", smoothing=0.6),
                             xaxis="x2", yaxis="y2"))

axis_col = "#a3a3a3"
tick_font = dict(family=FONT, size=22.5, color="#2a2a2a")
top_dom = [fy(323), 1.0]
bot_dom = [0.0, fy(372)]
common = dict(showline=True, linecolor=axis_col, linewidth=1.6, tickwidth=1.4, tickcolor=axis_col,
              showgrid=False, zeroline=False, automargin=False, fixedrange=True)

fig.update_layout(
    width=W, height=H, autosize=False,
    margin=dict(l=ML, r=MR, t=MT, b=MB, pad=0, autoexpand=False),
    paper_bgcolor="white", plot_bgcolor="white",
    font=dict(family=FONT, color="#222"),
    xaxis=dict(domain=[0, 1], range=[1988, 2014.38], anchor="y", side="top",
               ticks="inside", ticklen=7, tickvals=x_ticks, showticklabels=False, **common),
    yaxis=dict(domain=top_dom, range=[37.11, 46.25], anchor="x",
               ticks="outside", ticklen=8, tickvals=ya_ticks, tickfont=tick_font, **common),
    xaxis2=dict(domain=[0, 1], range=[1988, 2014.38], anchor="y2",
                ticks="outside", ticklen=7, tickvals=x_ticks, showticklabels=False, **common),
    yaxis2=dict(domain=bot_dom, range=[-2.29, 2.09], anchor="x2",
                ticks="outside", ticklen=8, tickvals=yb_ticks, ticktext=yb_ticklabels,
                tickfont=tick_font, **common),
    showlegend=False,
)

ann = []
ann.append(dict(text="(a) TCWV monthly averages over tropical oceans", xref="paper", yref="paper",
                x=fx(33), y=fy(22), xanchor="left", yanchor="middle", showarrow=False,
                font=dict(family=FONT, size=30, color="#111")))
ann.append(dict(text="(b) 12-month moving average of anomalies (subtracting 1988-2005 monthly climatologies)",
                xref="paper", yref="paper", x=fx(33), y=fy(352), xanchor="left", yanchor="middle",
                showarrow=False, font=dict(family=FONT, size=30, color="#111")))
for yc in (184, 505):
    ann.append(dict(text="[kg/m**2]", xref="paper", yref="paper", x=fx(15), y=fy(yc),
                    xanchor="center", yanchor="middle", textangle=-90, showarrow=False,
                    font=dict(family=FONT, size=17, color="#333")))
# bottom x tick labels (placed explicitly so they sit just under the axis)
for yr in x_ticks:
    ann.append(dict(text=str(yr), xref="x2", yref="paper", x=yr, y=fy(671),
                    xanchor="center", yanchor="middle", showarrow=False, font=tick_font))

# manual legend (line sample + coloured label)
legend_pos = {
    "RSSv6": (472, 605), "RSSv7": (472, 635),
    "HOAPSv3.1": (623, 605), "HOAPSv3.2": (623, 635),
    "JRA-55": (827, 597), "ERA-Interim": (827, 635),
    "ERA-20CM": (1029, 574), "ERA-20C 3-hour Fcst": (1029, 603), "ERA-20C Analysis": (1029, 632),
}
shapes = []
for name, va, vb, col, wd in series:
    lx, ly = legend_pos[name]
    shapes.append(dict(type="line", xref="paper", yref="paper", x0=fx(lx), x1=fx(lx + 38),
                       y0=fy(ly), y1=fy(ly), line=dict(color=col, width=wd if wd > 2 else 1.2)))
    ann.append(dict(text=name, xref="paper", yref="paper", x=fx(lx + 50), y=fy(ly),
                    xanchor="left", yanchor="middle", showarrow=False,
                    font=dict(family=FONT, size=22, color=col)))

fig.update_layout(annotations=ann, shapes=shapes)
fig.write_html("out.html", config={"displayModeBar": False})
